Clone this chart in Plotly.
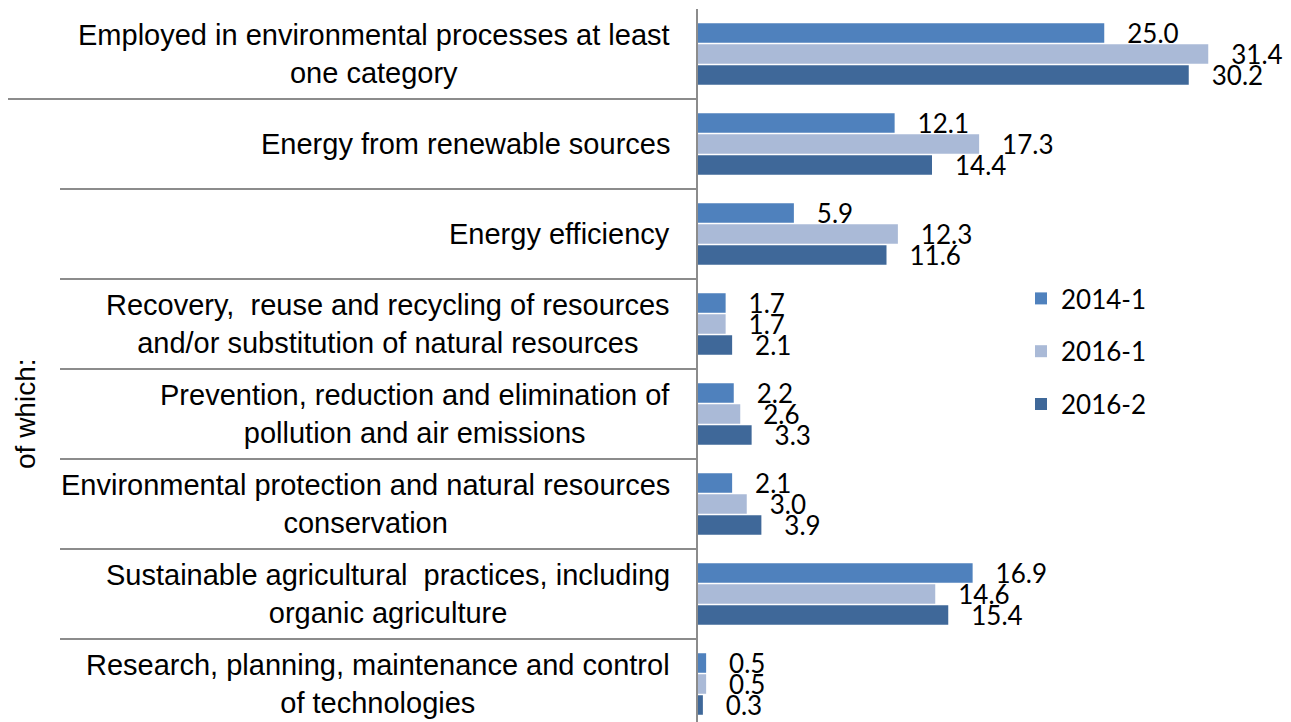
"""Employment in environmental processes, by category (horizontal grouped bars)."""

import plotly.graph_objects as go

CATEGORIES = [
    "Employed in environmental processes at least<br>one category",
    "Energy from renewable sources",
    "Energy efficiency",
    "Recovery,  reuse and recycling of resources<br>and/or substitution of natural resources",
    "Prevention, reduction and elimination of<br>pollution and air emissions",
    "Environmental protection and natural resources<br>conservation",
    "Sustainable agricultural  practices, including<br>organic agriculture",
    "Research, planning, maintenance and control<br>of technologies",
]

SERIES = ["2014-1", "2016-1", "2016-2"]
VALUES_2014_1 = [25.0, 12.1, 5.9, 1.7, 2.2, 2.1, 16.9, 0.5]
VALUES_2016_1 = [31.4, 17.3, 12.3, 1.7, 2.6, 3.0, 14.6, 0.5]
VALUES_2016_2 = [30.2, 14.4, 11.6, 2.1, 3.3, 3.9, 15.4, 0.3]

COLORS = ["#4F81BD", "#AABAD7", "#3F6899"]
GRID = "#8c8c8c"
NUM_FONT = "Lato, Liberation Sans, sans-serif"
LBL_FONT = "Liberation Sans, Arial, sans-serif"

# plot area in pixels (axis at x=698)
W, H = 1291, 722
M_L, M_R, M_T, M_B = 698, 8, 9, 0
PLOT_W = W - M_L - M_R

fig = go.Figure()
for name, vals, col in zip(SERIES, [VALUES_2014_1, VALUES_2016_1, VALUES_2016_2], COLORS):
    fig.add_trace(go.Bar(
        y=CATEGORIES,
        x=vals,
        name=name,
        orientation="h",
        legendgroup=name,
        marker=dict(color=col, line=dict(width=0)),
        texttemplate="\u00a0\u00a0\u00a0%{x:.1f}",
        textposition="outside",
        constraintext="none",
        cliponaxis=False,
        textfont=dict(family=NUM_FONT, size=26, color="#000000"),
    ))

# category labels, centred lines, right edge near the axis
for cat in CATEGORIES:
    fig.add_annotation(
        x=0, xref="paper", y=cat, yref="y",
        text=cat, showarrow=False,
        xanchor="right", yanchor="middle", xshift=-26, align="center",
        font=dict(family=LBL_FONT, size=29, color="#000000"),
    )

# separators between categories
for k in range(len(CATEGORIES) - 1):
    left_px = 8 if k == 0 else 60
    fig.add_shape(
        type="line", xref="paper", yref="y",
        x0=(left_px - M_L) / PLOT_W, x1=0, y0=k + 0.5, y1=k + 0.5,
        line=dict(color=GRID, width=2),
    )

fig.add_annotation(
    x=(25 - M_L) / PLOT_W, xref="paper", y=4.0, yref="y",
    text="of which:", showarrow=False, textangle=-90,
    xanchor="center", yanchor="middle",
    font=dict(family=LBL_FONT, size=28, color="#000000"),
)

cat_px = 90
fig.update_layout(
    width=W, height=H,
    margin=dict(l=M_L, r=M_R, t=M_T, b=M_B, pad=0),
    paper_bgcolor="white",
    plot_bgcolor="white",
    barmode="group",
    bargap=0.30,
    bargroupgap=0.07,
    showlegend=True,
    legend=dict(
        x=(1021 - M_L) / PLOT_W, y=1 - (275 - M_T) / (H - M_T - M_B),
        xanchor="left", yanchor="top",
        traceorder="grouped", tracegroupgap=16,
        font=dict(family=NUM_FONT, size=26, color="#000000"),
        bgcolor="rgba(0,0,0,0)",
    ),
    xaxis=dict(
        range=[0, 36], showgrid=False, zeroline=False,
        showticklabels=False, showline=False, ticks="",
    ),
    yaxis=dict(
        range=[len(CATEGORIES) - 0.5 - (len(CATEGORIES) * cat_px - (H - M_T - M_B)) / cat_px, -0.5],
        showgrid=False, zeroline=False, showticklabels=False, ticks="",
        showline=True, linecolor=GRID, linewidth=2,
    ),
)

# the page body has a default 8px margin; drop it so the figure sits at 0,0
fig.write_html(
    "out.html",
    config={"displayModeBar": False},
    post_script="document.body.style.margin='0';",
)
